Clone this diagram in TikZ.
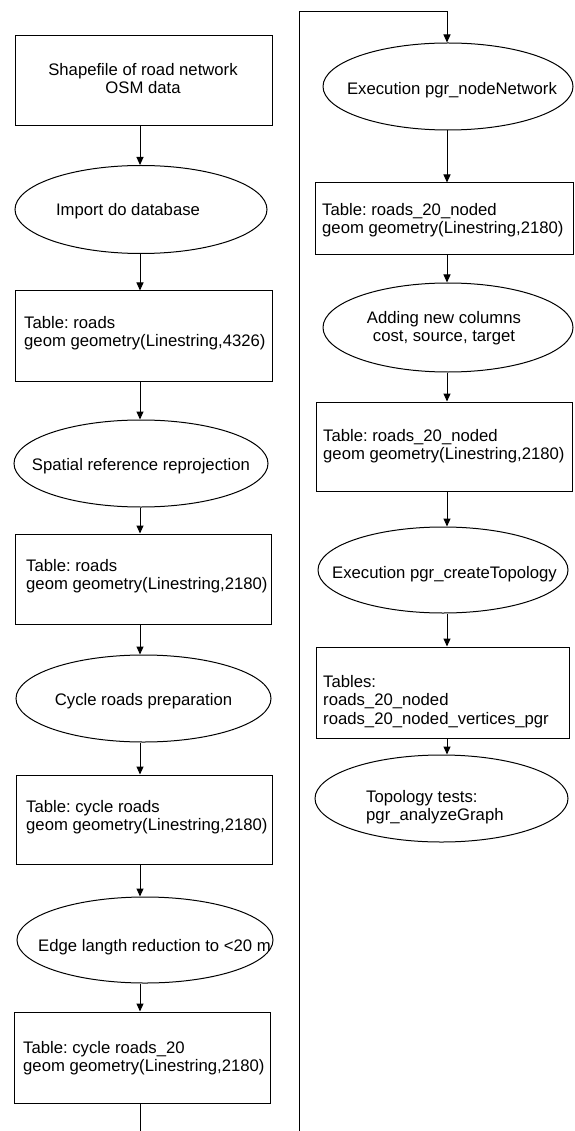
\documentclass[tikz,border=0pt]{standalone}
\usepackage{fontspec}
\setmainfont{Liberation Sans}
\frenchspacing
\usetikzlibrary{shapes.geometric,arrows.meta}
\tikzset{
  box/.style={draw=black,line width=1pt,rectangle,inner sep=0pt},
  oval/.style={draw=black,line width=1pt,ellipse,inner sep=0pt},
  txt/.style={inner sep=0pt,font=\fontsize{16.7}{18.5}\selectfont,text=black},
  arr/.style={line width=1pt,draw=black,-{Triangle[length=8pt,width=7pt]}}
}
\begin{document}
\begin{tikzpicture}[x=1pt,y=-1pt]
\path[use as bounding box] (0,0) rectangle (574,1131);
\clip (0,0) rectangle (574,1131);
% left column shapes
\node[box,minimum width=257pt,minimum height=90pt] (b1) at (143.5,81) {};
\node[oval,minimum width=252pt,minimum height=88pt] (e1) at (141,209.5) {};
\node[box,minimum width=257pt,minimum height=90pt] (b2) at (143.5,336) {};
\node[oval,minimum width=254pt,minimum height=87pt] (e2) at (141,463.5) {};
\node[box,minimum width=256pt,minimum height=90pt] (b3) at (143,579) {};
\node[oval,minimum width=255pt,minimum height=87pt] (e3) at (143.5,698.5) {};
\node[box,minimum width=256pt,minimum height=89pt] (b4) at (144,819.5) {};
\node[oval,minimum width=256pt,minimum height=86pt] (e4) at (145,940) {};
\node[box,minimum width=256pt,minimum height=91pt] (b5) at (142,1057.5) {};
% right column shapes
\node[oval,minimum width=250pt,minimum height=87pt] (r1) at (448,86.5) {};
\node[box,minimum width=258pt,minimum height=72pt] (rb1) at (444,219) {};
\node[oval,minimum width=250pt,minimum height=89pt] (r2) at (448,327.5) {};
\node[box,minimum width=256pt,minimum height=89pt] (rb2) at (444,446.5) {};
\node[oval,minimum width=250pt,minimum height=86pt] (r3) at (443,570) {};
\node[box,minimum width=253pt,minimum height=91pt] (rb3) at (442.5,692.5) {};
\node[oval,minimum width=253pt,minimum height=87pt] (r4) at (441.5,798.5) {};
% texts
\node[txt,align=center,anchor=north] (t1) at (143,62) {\strut Shapefile of road network\\OSM data\strut};
\node[txt,anchor=base] (t2) at (128,216) {Import do database};
\node[txt,align=left,anchor=north west] (t3) at (24,315) {\strut Table: roads\\geom geometry(Linestring,4326)\strut};
\node[txt,anchor=base] (t4) at (141,470) {Spatial reference reprojection};
\node[txt,align=left,anchor=north west] (t5) at (26,558) {\strut Table: roads\\geom geometry(Linestring,2180)\strut};
\node[txt,anchor=base] (t6) at (143.5,705) {Cycle roads preparation};
\node[txt,align=left,anchor=north west] (t7) at (26,799) {\strut Table: cycle roads\\geom geometry(Linestring,2180)\strut};
\node[txt,anchor=base west] (t8) at (38,951) {Edge langth reduction to <20 m};
\node[txt,align=left,anchor=north west] (t9) at (23,1040) {\strut Table: cycle roads\_20\\geom geometry(Linestring,2180)\strut};
\node[txt,anchor=base] (t10) at (452,95) {Execution pgr\_nodeNetwork};
\node[txt,align=left,anchor=north west] (t11) at (322,202) {\strut Table: roads\_20\_noded\\geom geometry(Linestring,2180)\strut};
\node[txt,align=center,anchor=north] (t12) at (444,310) {\strut Adding new columns\\cost, source, target\strut};
\node[txt,align=left,anchor=north west] (t13) at (323,428) {\strut Table: roads\_20\_noded\\geom geometry(Linestring,2180)\strut};
\node[txt,anchor=base] (t14) at (444.5,578) {Execution pgr\_createTopology};
\node[txt,align=left,anchor=north west] (t15) at (323,674) {\strut Tables:\\roads\_20\_noded\\roads\_20\_noded\_vertices\_pgr\strut};
\node[txt,align=left,anchor=north west] (t16) at (366,789) {\strut Topology tests:\\pgr\_analyzeGraph\strut};
% column axes
\coordinate (cL) at (140,0);
\coordinate (cR) at (447,0);
% connectors left
\draw[arr] (b1.south -| cL) -- (cL |- e1.north);
\draw[arr] (e1.south -| cL) -- (cL |- b2.north);
\draw[arr] (b2.south -| cL) -- (cL |- e2.north);
\draw[arr] (e2.south -| cL) -- (cL |- b3.north);
\draw[arr] (b3.south -| cL) -- (cL |- e3.north);
\draw[arr] (e3.south -| cL) -- (cL |- b4.north);
\draw[arr] (b4.south -| cL) -- (cL |- e4.north);
\draw[arr] (e4.south -| cL) -- (cL |- b5.north);
% long connector
\coordinate (jA) at (299,1140);
\coordinate (jB) at (299,12);
\coordinate (jC) at (447,12);
\draw[arr] (b5.south -| cL) |- (jA) -- (jB) -- (jC) -- (jC |- r1.north);
% connectors right
\draw[arr] (r1.south -| cR) -- (cR |- rb1.north);
\draw[arr] (rb1.south -| cR) -- (cR |- r2.north);
\draw[arr] (r2.south -| cR) -- (cR |- rb2.north);
\draw[arr] (rb2.south -| cR) -- (cR |- r3.north);
\draw[arr] (r3.south -| cR) -- (cR |- rb3.north);
\draw[arr] (rb3.south -| cR) -- (cR |- r4.north);
\end{tikzpicture}
\end{document}
